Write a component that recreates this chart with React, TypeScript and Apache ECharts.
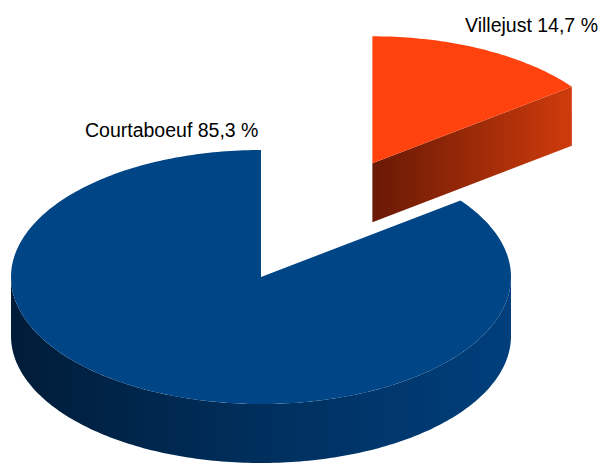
import React, { useEffect, useRef } from "react";
import * as echarts from "echarts";

// ---- data ----
const categories: string[] = ["Courtaboeuf", "Villejust"];
const values: number[] = [85.3, 14.7];

// ---- styles / layout ----
const topColors = ["#004586", "#ff420e"];
const sideStops = [
  ["#001c38", "#002f5d", "#003f7c"],
  ["#691905", "#9a2a08", "#cf3b0c"],
];
const explode = [0, 1.0];
const labelPos = [
  [85, 130],
  [465, 25],
];
const CX = 261;
const CY = 277;
const RX = 250;
const RY = 127;
const DEPTH = 59;
const START_ANGLE = 90;

function pt(cx: number, cy: number, a: number, dy = 0): number[] {
  const r = (a * Math.PI) / 180;
  return [cx + RX * Math.cos(r), cy - RY * Math.sin(r) + dy];
}

function arcPts(cx: number, cy: number, a0: number, a1: number, dy = 0): number[][] {
  const n = Math.max(2, Math.ceil(Math.abs(a1 - a0) / 1));
  const out: number[][] = [];
  for (let i = 0; i <= n; i++) out.push(pt(cx, cy, a0 + ((a1 - a0) * i) / n, dy));
  return out;
}

function grad(stops: string[]) {
  return new echarts.graphic.LinearGradient(0, 0, 1, 0, [
    { offset: 0, color: stops[0] },
    { offset: 0.5, color: stops[1] },
    { offset: 1, color: stops[2] },
  ]);
}

function fmt(v: number, total: number) {
  return ((v / total) * 100).toFixed(1).replace(".", ",") + " %";
}

export default function App() {
  const ref = useRef<HTMLDivElement>(null);
  useEffect(() => {
    document.body.style.margin = "0";
    if (!ref.current) return;
    const chart = echarts.init(ref.current, undefined, { renderer: "svg" });
    const total = values.reduce((a, b) => a + b, 0);
    const cum: number[] = [];
    let acc = 0;
    values.forEach((v) => {
      cum.push(acc);
      acc += v;
    });

    const renderItem = (params: any) => {
      const i = params.dataIndex;
      const a0 = START_ANGLE + (cum[i] / total) * 360;
      const a1 = a0 + (values[i] / total) * 360;
      const mid = (a0 + a1) / 2;
      const mr = (mid * Math.PI) / 180;
      const cx = CX + explode[i] * RX * Math.cos(mr);
      const cy = CY - explode[i] * RY * Math.sin(mr);
      const children: any[] = [];

      // radial faces
      const faces: number[] = [];
      if (Math.sin(((a0 - 90) * Math.PI) / 180) < -1e-6) faces.push(a0);
      if (Math.sin(((a1 + 90) * Math.PI) / 180) < -1e-6) faces.push(a1);
      faces.forEach((a) => {
        const p = pt(cx, cy, a);
        children.push({
          type: "polygon",
          shape: { points: [[cx, cy], p, [p[0], p[1] + DEPTH], [cx, cy + DEPTH]] },
          style: { fill: grad(sideStops[i]) },
        });
      });

      // outer walls (front-facing part)
      for (let k = -1; k <= 1; k++) {
        const s = Math.max(a0, 180 + 360 * k);
        const e = Math.min(a1, 360 + 360 * k);
        if (e > s) {
          const top = arcPts(cx, cy, s, e);
          const bot = arcPts(cx, cy, s, e, DEPTH).reverse();
          children.push({
            type: "polygon",
            shape: { points: top.concat(bot) },
            style: { fill: grad(sideStops[i]) },
          });
        }
      }

      // top
      children.push({
        type: "polygon",
        shape: { points: [[cx, cy]].concat(arcPts(cx, cy, a0, a1)) },
        style: { fill: topColors[i] },
      });

      return { type: "group", children };
    };

    chart.setOption({
      animation: false,
      series: [
        {
          type: "custom",
          coordinateSystem: "none",
          renderItem,
          data: values,
          silent: true,
        },
      ],
      graphic: categories.map((c, i) => ({
        type: "text",
        x: labelPos[i][0],
        y: labelPos[i][1],
        style: {
          text: c + " " + fmt(values[i], total),
          fill: "#000000",
          font: '19.5px "Liberation Sans", Arial, sans-serif',
          textAlign: "left",
          textVerticalAlign: "middle",
        },
      })),
    });
    return () => chart.dispose();
  }, []);
  return (
    <div
      ref={ref}
      style={{ position: "absolute", left: 0, top: 0, width: 603, height: 466, background: "#ffffff" }}
    />
  );
}
